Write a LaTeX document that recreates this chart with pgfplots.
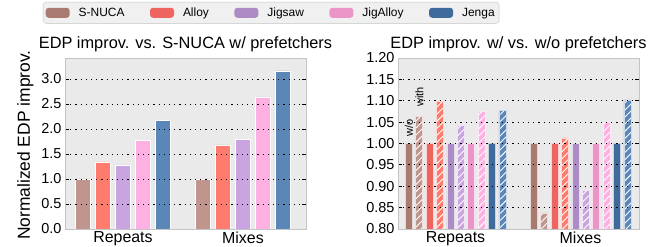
\documentclass[border=0pt]{standalone}
\usepackage{fontspec}
\setmainfont{Liberation Sans}
\usepackage{pgfplots}
\pgfplotsset{compat=1.18}
\usetikzlibrary{patterns.meta}
\definecolor{snA}{HTML}{A87A70}
\definecolor{alA}{HTML}{EE6460}
\definecolor{jsA}{HTML}{AD8CC6}
\definecolor{jaA}{HTML}{EA94C8}
\definecolor{jeA}{HTML}{3F6B9C}
\definecolor{snB}{HTML}{C0958D}
\definecolor{alB}{HTML}{FF7B6E}
\definecolor{jsB}{HTML}{C9A4E0}
\definecolor{jaB}{HTML}{FFB0E3}
\definecolor{jeB}{HTML}{5A86B8}
\definecolor{bgc}{HTML}{EAEAEA}
\definecolor{bordc}{HTML}{C4C4C4}
\pgfplotsset{
  base/.style={
    scale only axis, width=241bp, height=171bp, anchor=south west,
    axis background/.style={fill=bgc},
    axis line style={draw=bordc, line width=0.8bp},
    axis on top, ymajorgrids,
    major grid style={black, line width=0.8bp, dash pattern=on 1.2bp off 4bp},
    tick align=inside, ytick pos=both, major tick length=4bp,
    ytick style={black, line width=0.8bp},
    xtick style={draw=none},
    xtick={0,1}, xticklabels={Repeats,Mixes},
    x tick label style={font=\fontsize{16}{18}\selectfont, yshift=1bp},
    y tick label style={font=\fontsize{14.5}{16}\selectfont},
    /pgf/number format/assume math mode=true,
    title style={font=\fontsize{16.4}{18}\selectfont, yshift=-3bp},
    clip=true,
  },
  hatch/.style={postaction={pattern={Lines[angle=45,distance=5bp,line width=0.9bp]}, pattern color=white}},
}
\begin{document}
\begin{tikzpicture}
\begin{axis}[base, at={(65bp,18bp)},
  xmin=-0.483, xmax=1.525, ymin=0, ymax=3.42,
  ytick={0,0.5,1,1.5,2,2.5,3},
  yticklabel style={/pgf/number format/.cd, fixed, fixed zerofill, precision=1},
  title={EDP improv. vs. S-NUCA w/ prefetchers},
  ylabel={Normalized EDP improv.},
  every axis y label/.style={at={(axis description cs:-0.164,0.49)}, rotate=90, anchor=center, font=\fontsize{17.5}{19}\selectfont},
  legend columns=5,
  legend image code/.code={\path[#1, draw=none] (0bp,-5bp) -- (24bp,-5bp) -- (24bp,5bp) -- (0bp,5bp) -- cycle;},
  legend style={at={(axis description cs:-0.0913,1.3275)}, anchor=north west,
    draw=bordc, fill=black!6, rounded corners=3bp, inner xsep=2.5bp, inner ysep=3.5bp,
    font=\fontsize{12}{14}\selectfont,
    /tikz/every odd column/.append style={column sep=7bp},
    /tikz/every even column/.append style={column sep=23.5bp}},
]
\addplot[ybar, bar width=15bp, bar shift=-40bp, fill=snB, draw=white, line width=0.5bp, forget plot] coordinates {(0,1.0) (1,1.0)};
\addplot[ybar, bar width=15bp, bar shift=-20bp, fill=alB, draw=white, line width=0.5bp, forget plot] coordinates {(0,1.34) (1,1.68)};
\addplot[ybar, bar width=15bp, bar shift=0bp, fill=jsB, draw=white, line width=0.5bp, forget plot] coordinates {(0,1.28) (1,1.79)};
\addplot[ybar, bar width=15bp, bar shift=20bp, fill=jaB, draw=white, line width=0.5bp, forget plot] coordinates {(0,1.77) (1,2.64)};
\addplot[ybar, bar width=15bp, bar shift=40bp, fill=jeB, draw=white, line width=0.5bp, forget plot] coordinates {(0,2.17) (1,3.16)};
\addlegendimage{fill=snA}\addlegendentry{S-NUCA}
\addlegendimage{fill=alA}\addlegendentry{Alloy}
\addlegendimage{fill=jsA}\addlegendentry{Jigsaw}
\addlegendimage{fill=jaA}\addlegendentry{JigAlloy}
\addlegendimage{fill=jeA}\addlegendentry{Jenga}
\end{axis}
\begin{axis}[base, at={(398bp,18bp)},
  xmin=-0.46, xmax=1.468, ymin=0.8, ymax=1.2,
  ytick={0.80,0.85,0.90,0.95,1.00,1.05,1.10,1.15,1.20},
  yticklabel style={/pgf/number format/.cd, fixed, fixed zerofill, precision=2},
  title={EDP improv. w/ vs. w/o prefetchers},
]
\addplot[ybar, bar width=7bp, bar shift=-46.8bp, fill=snA, draw=white!70!snA, line width=0.5bp] coordinates {(0,1.0) (1,1.0)};
\addplot[ybar, bar width=7bp, bar shift=-36.4bp, fill=snB, draw=white!70!snB, line width=0.5bp, hatch] coordinates {(0,1.063) (1,0.838)};
\addplot[ybar, bar width=7bp, bar shift=-26bp, fill=alA, draw=white!70!alA, line width=0.5bp] coordinates {(0,1.0) (1,1.0)};
\addplot[ybar, bar width=7bp, bar shift=-15.6bp, fill=alB, draw=white!70!alB, line width=0.5bp, hatch] coordinates {(0,1.099) (1,1.013)};
\addplot[ybar, bar width=7bp, bar shift=-5.2bp, fill=jsA, draw=white!70!jsA, line width=0.5bp] coordinates {(0,1.0) (1,1.0)};
\addplot[ybar, bar width=7bp, bar shift=5.2bp, fill=jsB, draw=white!70!jsB, line width=0.5bp, hatch] coordinates {(0,1.042) (1,0.890)};
\addplot[ybar, bar width=7bp, bar shift=15.6bp, fill=jaA, draw=white!70!jaA, line width=0.5bp] coordinates {(0,1.0) (1,1.0)};
\addplot[ybar, bar width=7bp, bar shift=26bp, fill=jaB, draw=white!70!jaB, line width=0.5bp, hatch] coordinates {(0,1.076) (1,1.049)};
\addplot[ybar, bar width=7bp, bar shift=36.4bp, fill=jeA, draw=white!70!jeA, line width=0.5bp] coordinates {(0,1.0) (1,1.0)};
\addplot[ybar, bar width=7bp, bar shift=46.8bp, fill=jeB, draw=white!70!jeB, line width=0.5bp, hatch] coordinates {(0,1.077) (1,1.102)};
\node[rotate=90, anchor=west, inner sep=0pt, font=\fontsize{11}{12}\selectfont] at (axis cs:-0.372,1.015) {w/o};
\node[rotate=90, anchor=west, inner sep=0pt, font=\fontsize{11}{12}\selectfont] at (axis cs:-0.289,1.086) {with};
\draw[black, line width=0.8bp] (rel axis cs:0,0) ++(-21bp,2.5bp) ellipse [x radius=16.3bp, y radius=13.5bp];
\end{axis}
\pgfresetboundingbox
\useasboundingbox (0bp,0bp) rectangle (668bp,247bp);
\end{tikzpicture}
\end{document}
